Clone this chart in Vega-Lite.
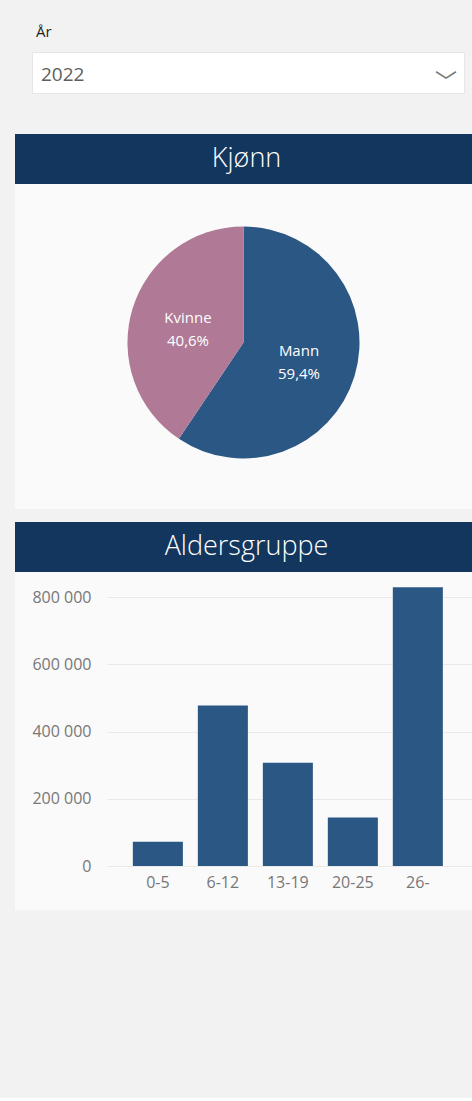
{
  "$schema": "https://vega.github.io/schema/vega-lite/v6.json",
  "background": "#f2f2f2",
  "padding": {"left": 15, "top": 24, "right": 0, "bottom": 188},
  "spacing": 0,
  "config": {
    "font": "Open Sans",
    "view": {"stroke": null},
    "locale": {"number": {"decimal": ",", "thousands": " ", "grouping": [3], "currency": ["", " kr"]}}
  },
  "vconcat": [
    {
      "spacing": 0,
      "hconcat": [
        {"width": 16, "height": 41, "data": {"values": []}, "mark": "point"},
        {
          "width": 432,
          "height": 41,
          "view": {"fill": "#ffffff", "stroke": "#e6e6e6"},
          "title": {"text": "År", "anchor": "start", "fontSize": 15, "fontWeight": "normal", "color": "#252423", "offset": 12, "dx": 4},
          "data": {"values": [{"aar": "2022"}]},
          "layer": [
            {
              "mark": {"type": "text", "align": "left", "baseline": "middle", "dx": -207, "dy": 2, "fontSize": 19, "color": "#605e5c"},
              "encoding": {"text": {"field": "aar"}}
            },
            {
              "mark": {"type": "text", "align": "center", "baseline": "middle", "dx": 198, "dy": 9, "font": "Noto Sans CJK SC", "fontSize": 22, "color": "#777777", "text": "﹀"},
              "encoding": {}
            }
          ]
        }
      ]
    },
    {"width": 457, "height": 40, "data": {"values": []}, "mark": "point"},
    {
      "width": 457,
      "height": 50,
      "view": {"fill": "#13365f"},
      "data": {"values": [{"tittel": "Kjønn"}]},
      "mark": {"type": "text", "fontSize": 27, "fontWeight": 300, "color": "#ffffff", "dx": 3, "baseline": "middle"},
      "encoding": {"text": {"field": "tittel"}}
    },
    {
      "width": 457,
      "height": 317,
      "view": {"fill": "#fafafa"},
      "data": {"values": [
        {"kjonn": "Mann", "andel": 59.4, "etikett": "Mann\n59,4%"},
        {"kjonn": "Kvinne", "andel": 40.6, "etikett": "Kvinne\n40,6%"}
      ]},
      "encoding": {
        "theta": {"field": "andel", "type": "quantitative", "stack": true},
        "order": {"field": "kjonn", "sort": "descending"}
      },
      "layer": [
        {
          "mark": {"type": "arc", "outerRadius": 116},
          "encoding": {
            "color": {"field": "kjonn", "type": "nominal", "scale": {"domain": ["Mann", "Kvinne"], "range": ["#2b5784", "#b07995"]}, "legend": null}
          }
        },
        {
          "mark": {"type": "text", "radius": 58, "dy": -8, "fontSize": 15, "color": "#ffffff", "lineBreak": "\n", "lineHeight": 23, "baseline": "middle"},
          "encoding": {
            "detail": {"field": "kjonn"},
            "text": {"field": "etikett"}
          }
        }
      ]
    },
    {"width": 457, "height": 8, "view": {"fill": "#fafafa"}, "data": {"values": []}, "mark": "point"},
    {"width": 457, "height": 13, "data": {"values": []}, "mark": "point"},
    {
      "width": 457,
      "height": 50,
      "view": {"fill": "#13365f"},
      "data": {"values": [{"tittel": "Aldersgruppe"}]},
      "mark": {"type": "text", "fontSize": 27, "fontWeight": 300, "color": "#ffffff", "dx": 3, "baseline": "middle"},
      "encoding": {"text": {"field": "tittel"}}
    },
    {
      "width": 457,
      "height": 338,
      "view": {"fill": "#fafafa"},
      "data": {"values": [
        {"aldersgruppe": "0-5", "antall": 72000},
        {"aldersgruppe": "6-12", "antall": 477000},
        {"aldersgruppe": "13-19", "antall": 307000},
        {"aldersgruppe": "20-25", "antall": 144000},
        {"aldersgruppe": "26-", "antall": 829000}
      ]},
      "mark": {"type": "bar", "color": "#2b5784"},
      "encoding": {
        "x": {
          "field": "aldersgruppe", "type": "nominal", "sort": null,
          "scale": {"range": [92, 457], "paddingInner": 0.23, "paddingOuter": 0.423, "align": 0.47},
          "axis": {"title": null, "labelAngle": 0, "domain": false, "ticks": false, "tickSize": 0, "labelPadding": 2, "offset": -38, "labelFontSize": 16, "labelColor": "#777777", "grid": false}
        },
        "y": {
          "field": "antall", "type": "quantitative",
          "scale": {"domain": [0, 800000], "range": [294, 25], "nice": false},
          "axis": {"title": null, "values": [0, 200000, 400000, 600000, 800000], "format": ",d", "domain": false, "ticks": false, "tickSize": 0, "labelPadding": 0, "offset": -76, "labelFontSize": 16, "labelColor": "#777777", "gridColor": "#e9e9e9"}
        }
      }
    }
  ]
}
